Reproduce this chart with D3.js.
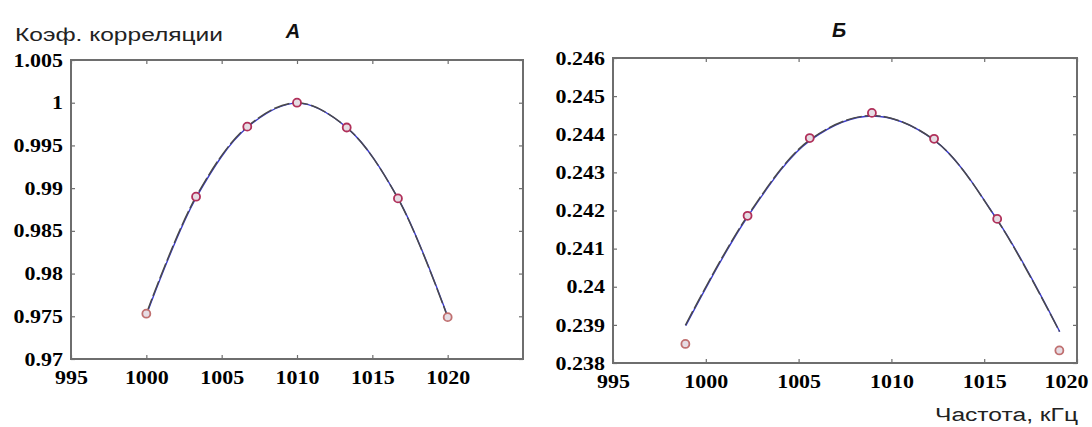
<!DOCTYPE html>
<html><head><meta charset="utf-8">
<script src="https://cdn.jsdelivr.net/npm/d3@7"></script>
<style>body{margin:0;background:#fff}svg{display:block}</style>
</head><body>
<svg id="c" width="1092" height="427"></svg>
<script>
// ---- Data ----
const freqA = [1000, 1003.3, 1006.7, 1010, 1013.3, 1016.7, 1020];
const corrA = [0.9753, 0.9890, 0.9972, 1.0000, 0.9971, 0.9888, 0.9749];
const fitA  = [0.9753, 0.9890, 0.9972, 1.0000, 0.9971, 0.9888, 0.9749];
const freqB = [998.9, 1002.25, 1005.6, 1008.95, 1012.3, 1015.7, 1019.05];
const corrB = [0.2385, 0.24186, 0.2439, 0.24456, 0.24388, 0.24178, 0.23833];
const fitB  = [0.23899, 0.24186, 0.24385, 0.24449, 0.24385, 0.24175, 0.23883];
const xTicksA = [995, 1000, 1005, 1010, 1015, 1020];
const yTicksA = [0.97, 0.975, 0.98, 0.985, 0.99, 0.995, 1, 1.005];
const yLabelsA = ["0.97","0.975","0.98","0.985","0.99","0.995","1","1.005"];
const xTicksB = [995, 1000, 1005, 1010, 1015, 1020];
const yTicksB = [0.238, 0.239, 0.24, 0.241, 0.242, 0.243, 0.244, 0.245, 0.246];
const yLabelsB = ["0.238","0.239","0.24","0.241","0.242","0.243","0.244","0.245","0.246"];
const titleA = "А", titleB = "Б";
const yTitle = "Коэф. корреляции", xTitle = "Частота, кГц";

const svg = d3.select("#c");
const tickFont = "'Liberation Serif', 'Times New Roman', serif";

function styleLabels(sel) {
  sel.attr("font-family", tickFont).attr("font-weight", "bold")
    .attr("font-size", 18).attr("fill", "#000");
  sel.each(function() {
    const w = this.getComputedTextLength();
    d3.select(this).attr("textLength", w * 1.22).attr("lengthAdjust", "spacingAndGlyphs");
  });
}

function panel(o) {
  const x = d3.scaleLinear().domain(o.xd).range([o.l, o.r]);
  const y = d3.scaleLinear().domain(o.yd).range([o.b, o.t]);
  const g = svg.append("g");
  const axisCol = "#6e6e6e";
  const mk = (axis, tr) => {
    const a = g.append("g").attr("transform", tr).call(axis);
    a.select(".domain").remove();
    a.selectAll("line").attr("stroke", axisCol).attr("stroke-width", 1.2);
    return a;
  };
  const bx = mk(d3.axisBottom(x).tickValues(o.xt).tickSize(-4).tickPadding(8).tickFormat(d3.format("d")), `translate(0,${o.b})`);
  bx.selectAll("text").attr("dy", "0.95em")
    .attr("dx", (d, i) => (o.lastDx && i === o.xt.length - 1) ? o.lastDx : 0);
  styleLabels(bx.selectAll("text"));
  mk(d3.axisTop(x).tickValues(o.xt).tickSize(-4).tickFormat(""), `translate(0,${o.t})`);
  const ly = mk(d3.axisLeft(y).tickValues(o.yt).tickSize(-4).tickPadding(8).tickFormat((d, i) => o.yl[i]), `translate(${o.l},0)`);
  ly.selectAll("text").attr("dy", "0.34em");
  styleLabels(ly.selectAll("text"));
  mk(d3.axisRight(y).tickValues(o.yt).tickSize(-4).tickFormat(""), `translate(${o.r},0)`);
  g.append("rect").attr("x", o.l).attr("y", o.t).attr("width", o.r - o.l).attr("height", o.b - o.t)
    .attr("fill", "none").attr("stroke", axisCol).attr("stroke-width", 2);
  const pts = o.fx.map((d, i) => [d, o.fy[i]]);
  const line = d3.line().x(d => x(d[0])).y(d => y(d[1])).curve(d3.curveCatmullRom.alpha(0.5));
  g.append("path").attr("d", line(pts)).attr("fill", "none").attr("stroke", "#3a3ad0").attr("stroke-width", 1.4)
    .attr("transform", "translate(0.4,0.4)");
  g.append("path").attr("d", line(pts)).attr("fill", "none").attr("stroke", "#4a4a4a").attr("stroke-width", 1.5)
    .attr("stroke-dasharray", "16,3");
  g.selectAll("circle.m").data(o.px.map((d, i) => [d, o.py[i], i])).join("circle")
    .attr("class", "m")
    .attr("cx", d => x(d[0])).attr("cy", d => y(d[1])).attr("r", 4)
    .attr("fill", "#e6dde4")
    .attr("stroke", d => (d[2] === 0 || d[2] === o.px.length - 1) ? "#c07070" : "#b0305a")
    .attr("stroke-width", 1.8);
  return {x, y};
}

panel({l: 71, r: 523, t: 60, b: 359, xd: [995, 1025], yd: [0.97, 1.005],
  xt: xTicksA, yt: yTicksA, yl: yLabelsA, px: freqA, py: corrA, fx: freqA, fy: fitA});
panel({l: 613, r: 1077, t: 58, b: 363, xd: [995, 1020], yd: [0.238, 0.246],
  xt: xTicksB, yt: yTicksB, yl: yLabelsB, px: freqB, py: corrB, fx: freqB, fy: fitB, lastDx: -11});

svg.append("text").attr("x", 15).attr("y", 41).text(yTitle)
  .attr("font-family", "'Liberation Sans', Arial, sans-serif").attr("font-size", 18).attr("fill", "#222")
  .attr("textLength", 208).attr("lengthAdjust", "spacingAndGlyphs");
svg.append("text").attr("x", 293).attr("y", 38).attr("text-anchor", "middle").text(titleA)
  .attr("font-family", "'Liberation Sans', Arial, sans-serif").attr("font-size", 20)
  .attr("font-weight", "bold").attr("font-style", "italic").attr("fill", "#111");
svg.append("text").attr("x", 839).attr("y", 37).attr("text-anchor", "middle").text(titleB)
  .attr("font-family", "'Liberation Sans', Arial, sans-serif").attr("font-size", 20)
  .attr("font-weight", "bold").attr("font-style", "italic").attr("fill", "#111");
svg.append("text").attr("x", 935).attr("y", 421).text(xTitle)
  .attr("font-family", "'Liberation Sans', Arial, sans-serif").attr("font-size", 18).attr("fill", "#222")
  .attr("textLength", 143).attr("lengthAdjust", "spacingAndGlyphs");
</script>
</body></html>
